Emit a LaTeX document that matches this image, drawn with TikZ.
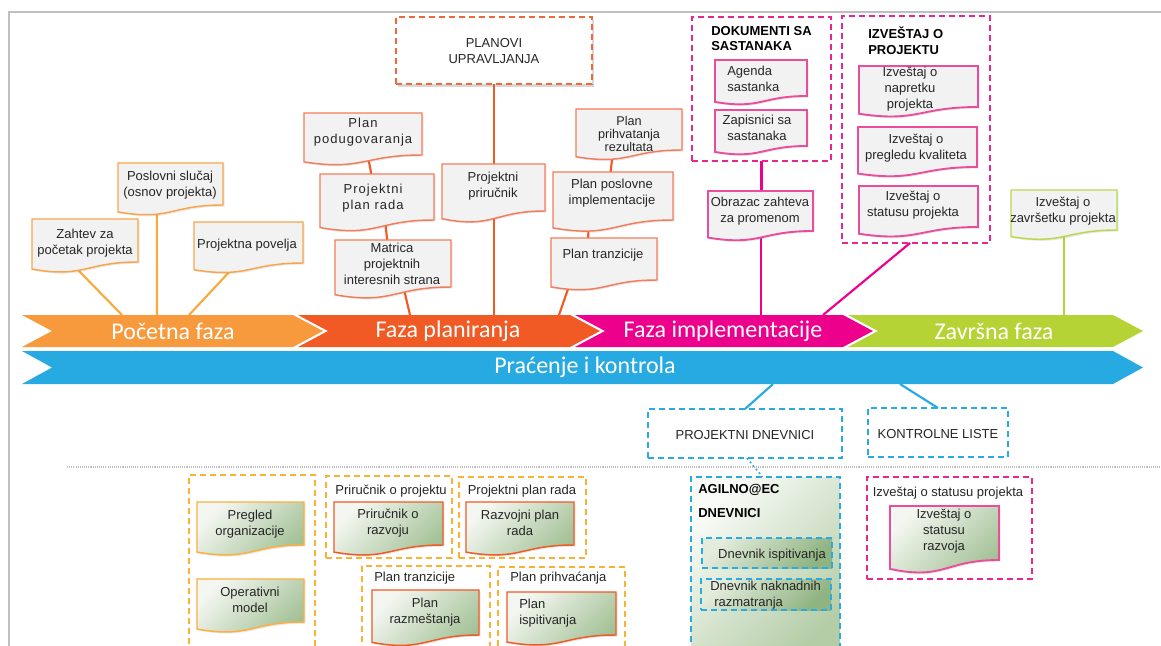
\documentclass[tikz,border=0pt]{standalone}
\usepackage{fontspec}
\setmainfont{Liberation Sans}
\newfontfamily\bandfont{Carlito}
\newfontfamily\spacedfont[LetterSpace=8]{Liberation Sans}
\usetikzlibrary{calc,fit,shadows}
\definecolor{bandOr}{HTML}{F79A3E}
\definecolor{bandRd}{HTML}{F15A24}
\definecolor{bandMg}{HTML}{EC008C}
\definecolor{bandGr}{HTML}{B5D334}
\definecolor{bandBl}{HTML}{27AAE1}
\definecolor{lnOr}{HTML}{F9AA3C}
\definecolor{bdOr}{HTML}{F9A64A}
\definecolor{bdSal}{HTML}{F47C5C}
\definecolor{dashRd}{HTML}{EE6A3A}
\definecolor{bdPk}{HTML}{EC4C9C}
\definecolor{dashPk}{HTML}{E8268F}
\definecolor{bdGr}{HTML}{BAD84D}
\definecolor{dashBl}{HTML}{29ABE2}
\definecolor{dashYo}{HTML}{F9B233}
\definecolor{bdYo}{HTML}{FBB040}
\definecolor{bdRd}{HTML}{F05A24}
\definecolor{docgray}{HTML}{F2F2F2}
\definecolor{gTL}{HTML}{F4F7F1}
\definecolor{gBR}{HTML}{A3C196}
\definecolor{gTLb}{HTML}{E4ECDD}
\definecolor{gBRb}{HTML}{8FB381}
\definecolor{gTLc}{HTML}{F9FBF7}
\definecolor{gBRc}{HTML}{B4CDA7}
\definecolor{txtc}{HTML}{262626}
\definecolor{framec}{HTML}{BFBFBF}

\pgfdeclarelayer{bgw}\pgfdeclarelayer{bg}\pgfsetlayers{bgw,bg,main}

\tikzset{
  docsh/.style={line width=1.1pt, fill=docgray, drop shadow={shadow xshift=1.2pt, shadow yshift=-1.2pt, opacity=0.18}},
  bOr/.style={draw=bdOr},
  bSal/.style={draw=bdSal},
  bPk/.style={draw=bdPk, line width=1.4pt},
  bGr/.style={draw=bdGr},
  gradA/.style={top color=gTL, bottom color=gBR, shading angle=45},
  bYo/.style={draw=bdYo, gradA},
  bRd/.style={draw=bdRd, gradA},
  bPkG/.style={draw=bdPk, line width=1.4pt, gradA},
  cont/.style={inner sep=0pt, outer sep=0pt, line width=1.4pt, dash pattern=on 4.5pt off 3pt},
  cPk/.style={cont, draw=dashPk},
  cBl/.style={cont, draw=dashBl},
  cYo/.style={cont, draw=dashYo, line width=1.1pt},
  cRd/.style={cont, draw=dashRd, line width=1.1pt, fill=white, drop shadow={shadow xshift=1.5pt, shadow yshift=-2pt, opacity=0.3}},
  lOr/.style={draw=lnOr, line width=1.6pt},
  lRd/.style={draw=bandRd, line width=1.6pt},
  lMg/.style={draw=bandMg, line width=1.6pt},
  lGr/.style={draw=bandGr, line width=1.6pt},
  lBl/.style={draw=bandBl, line width=1.6pt},
  txt/.style={font=\fontsize{9.75}{12}\selectfont, text=txtc, align=center, inner sep=0pt},
  ttl/.style={font=\bfseries\fontsize{9.75}{11.5}\selectfont, text=black, align=left, anchor=west, inner sep=0pt},
  bandtxt/.style={font=\bandfont\fontsize{18}{20}\selectfont, text=white, inner sep=0pt}
}

\newcommand\docshape[4][]{%
  \node[fit={(#3) (#4)}, inner sep=0pt, outer sep=0pt] (#2) {};
  \path[docsh,#1] let \p1=(#2.north west), \p2=(#2.south east), \n1={\y1-\y2} in
    (\x1,\y1) -- (\x2,\y1) -- (\x2,\y2) .. controls ({(\x1+\x2)/2},\y2) and ({(\x1+\x2)/2},{\y2-0.381*\n1}) .. (\x1,{\y2-0.165*\n1}) -- cycle;
}
\newcommand\chevron[5]{\fill[#1] (#2,#4) -- (#3,#4) -- ({#3+30},{(#4+#5)/2}) -- (#3,#5) -- (#2,#5) -- ({#2+30},{(#4+#5)/2}) -- cycle;}

\begin{document}
\begin{tikzpicture}[x=0.75pt,y=-0.75pt]
\useasboundingbox (0,0) rectangle (1161,646);
\begin{pgfonlayer}{bgw}
\fill[white] (0,0) rectangle (1161,646);
\end{pgfonlayer}
\clip (0,0) rectangle (1161,646);

% frame and separator
\draw[framec, line width=1.5pt] (8,12) -- (1161,12);
\draw[framec, line width=1.5pt] (9,12) -- (9,646);
\draw[framec, line width=0.8pt, dash pattern=on 0.8pt off 0.8pt] (67,467) -- (1161,467);

% bands
\chevron{bandOr}{22}{293}{315}{347}
\chevron{bandRd}{298}{570}{315}{347}
\chevron{bandMg}{575}{843}{315}{347}
\chevron{bandGr}{848}{1113}{315}{347}
\chevron{bandBl}{22}{1113}{351}{384}
\node[bandtxt] (ph1) at (173,331) {Početna faza};
\node[bandtxt] (ph2) at (448,331) {Faza planiranja};
\node[bandtxt] (ph3) at (723,331) {Faza implementacije};
\node[bandtxt] (ph4) at (994,331) {Završna faza};
\node[bandtxt] (ph5) at (585,367) {Praćenje i kontrola};

\coordinate (b1a) at (122,315);
\coordinate (b1b) at (157,315);
\coordinate (b1c) at (189,315);
\coordinate (b2a) at (410,315);
\coordinate (b2b) at (494,315);
\coordinate (b2c) at (559,315);
\coordinate (b3a) at (761,315);
\coordinate (b3b) at (823,315);
\coordinate (b4a) at (1064,315);
\coordinate (b5a) at (773,384);
\coordinate (b5b) at (900,384);

% initial phase documents
\docshape[bOr]{zahtev}{32,219}{138,262}
\node[txt] (zahtev-t) at (85,243) {Zahtev za\\početak projekta};
\docshape[bOr]{poslovni}{118,163}{223,205}
\node[txt] (poslovni-t) at (170,185) {Poslovni slučaj\\(osnov projekta)};
\docshape[bOr]{povelja}{194,222}{303,263}
\node[txt] (povelja-t) at (247,245) {Projektna povelja};

% planning
\node[cRd, fit={(396,17) (592,84)}] (planovi) {};
\node[txt] (planovi-t) at (494,51) {PLANOVI\\UPRAVLJANJA};
\docshape[bSal]{podug}{304,113}{422,155}
\node[txt, font=\spacedfont\fontsize{9.75}{12}\selectfont] (podug-t) at (363,132) {Plan\\podugovaranja};
\docshape[bSal]{planrada}{320,174}{434,220}
\node[txt, font=\spacedfont\fontsize{9.75}{12}\selectfont] (planrada-t) at (373,198) {Projektni\\plan rada};
\docshape[bSal]{matrica}{335,240}{451,287}
\node[txt] (matrica-t) at (392,264) {Matrica\\projektnih\\interesnih strana};
\docshape[bSal]{prirucnik}{442,164}{545,211}
\node[txt] (prirucnik-t) at (493,186) {Projektni\\priručnik};
\docshape[bSal]{prihv}{576,109}{682,150}
\node[txt, font=\fontsize{9.5}{9.8}\selectfont] (prihv-t) at (629,134) {Plan\\prihvatanja\\rezultata};
\docshape[bSal]{poslovne}{553,172}{673,220}
\node[txt] (poslovne-t) at (612,193) {Plan poslovne\\implementacije};
\docshape[bSal]{tranz}{551,238}{657,280}
\node[txt] (tranz-t) at (603,255) {Plan tranzicije};

% implementation
\node[cPk, fit={(692,17) (831,161)}] (dok) {};
\node[ttl] (dok-t) at (711,38.5) {DOKUMENTI SA\\SASTANAKA};
\docshape[bPk]{agenda}{715,60}{807,96}
\node[txt, align=left, anchor=west] (agenda-t) at (727,79) {Agenda\\sastanka};
\docshape[bPk]{zapis}{715,110}{807,146}
\node[txt] (zapis-t) at (757,128) {Zapisnici sa\\sastanaka};
\docshape[bPk]{obrazac}{708,191}{813,231}
\node[txt] (obrazac-t) at (760,211) {Obrazac zahteva\\za promenom};
\node[cPk, fit={(842,16) (990,243)}] (izv) {};
\node[ttl] (izv-t) at (868,40.7) {IZVEŠTAJ O\\PROJEKTU};
\docshape[bPk]{napr}{859,66}{978,107}
\node[txt] (napr-t) at (910,89) {Izveštaj o\\napretku\\projekta};
\docshape[bPk]{kval}{858,127}{977,167}
\node[txt] (kval-t) at (916,148) {Izveštaj o\\pregledu kvaliteta};
\docshape[bPk]{stat}{859,186}{978,227}
\node[txt] (stat-t) at (913,205) {Izveštaj o\\statusu projekta};

% closing
\docshape[bGr]{zavr}{1011,190}{1117,230}
\node[txt] (zavr-t) at (1063,211) {Izveštaj o\\završetku projekta};

% monitoring
\node[cBl, fit={(648,409) (842,458)}] (pdn) {};
\node[txt] (pdn-t) at (745,435) {PROJEKTNI DNEVNICI};
\node[cBl, fit={(868,408) (1008,457)}] (kl) {};
\node[txt] (kl-t) at (938,434) {KONTROLNE LISTE};

% bottom section
\node[cYo, fit={(189,475) (315,660)}] (col) {};
\docshape[bYo]{pregled}{197,502}{304,545}
\node[txt] (pregled-t) at (250,524) {Pregled\\organizacije};
\docshape[bYo]{operat}{197,579}{304,622}
\node[txt] (operat-t) at (250,600) {Operativni\\model};

\node[cYo, fit={(326,476) (452,558)}] (prc) {};
\node[txt] (prc-t) at (391,491) {Priručnik o projektu};
\docshape[bRd]{prraz}{334,502}{443,545}
\node[txt] (prraz-t) at (388,523) {Priručnik o\\razvoju};

\node[cYo, fit={(459,477) (586,558)}] (pprc) {};
\node[txt] (pprc-t) at (522,491) {Projektni plan rada};
\docshape[bRd]{razv}{466,502}{574,545}
\node[txt] (razv-t) at (520,523) {Razvojni plan\\rada};

\node[cYo, fit={(362,566) (490,660)}] (ptc) {};
\node[txt, anchor=west] (ptc-t) at (374,578) {Plan tranzicije};
\docshape[bRd]{razm}{372,590}{479,635}
\node[txt] (razm-t) at (425,612) {Plan\\razmeštanja};

\node[cYo, fit={(498,567) (625,660)}] (ppc) {};
\node[txt, anchor=west] (ppc-t) at (510,578) {Plan prihvaćanja};
\docshape[bRd]{ispit}{507,592}{616,635}
\node[txt, align=left, anchor=west] (ispit-t) at (519,613) {Plan\\ispitivanja};

\node[cBl, fit={(691,477) (840,660)}, top color=gTLc, bottom color=gBRc, shading angle=45] (agil) {};
\node[ttl] (agil-t) at (698,501) {AGILNO@EC\\[7pt]DNEVNICI};
\node[cBl, line width=1.1pt, fit={(702,538) (832,568)}, top color=gTLb, bottom color=gBRb, shading angle=45] (dnisp) {};
\node[txt] (dnisp-t) at (772,555) {Dnevnik ispitivanja};
\node[cBl, line width=1.1pt, fit={(701,579) (831,610)}, top color=gTLb, bottom color=gBRb, shading angle=45] (dnnak) {};
\node[txt, align=left, anchor=west] (dnnak-t) at (710,595) {Dnevnik naknadnih\\\hspace*{3pt}razmatranja};

\node[cPk, fit={(867,477) (1032,579)}] (isp) {};
\node[txt] (isp-t) at (948,493) {Izveštaj o statusu projekta};
\docshape[bPkG]{isr}{890,506}{999,560}
\node[txt] (isr-t) at (944,531) {Izveštaj o\\statusu\\razvoja};

% connectors (behind)
\begin{pgfonlayer}{bg}
\draw[lOr] ($(zahtev.south west)!0.36!(zahtev.south east)$) -- (b1a);
\draw[lOr] ($(poslovni.south west)!0.37!(poslovni.south east)$) -- (b1b);
\draw[lOr] ($(povelja.south west)!0.40!(povelja.south east)$) -- (b1c);
\draw[lRd] ($(podug.south west)!0.54!(podug.south east)$) -- ($(planrada.north west)!0.45!(planrada.north east)$);
\draw[lRd] ($(planrada.south west)!0.57!(planrada.south east)$) -- ($(matrica.north west)!0.45!(matrica.north east)$);
\draw[lRd] ($(matrica.south west)!0.59!(matrica.south east)$) -- (b2a);
\draw[lRd] (planovi.south) -- (planovi.south |- prirucnik.north);
\draw[lRd] (b2b |- prirucnik.south) -- (b2b);
\draw[lRd] ($(prihv.south west)!0.35!(prihv.south east)$) -- ($(poslovne.north west)!0.48!(poslovne.north east)$);
\draw[lRd] ($(poslovne.south west)!0.30!(poslovne.south east)$) -- ($(tranz.north west)!0.35!(tranz.north east)$);
\draw[lRd] ($(tranz.south west)!0.19!(tranz.south east)$) -- (b2c);
\draw[lMg] (dok.south) -- (dok.south |- obrazac.north);
\draw[lMg] (b3a |- obrazac.south) -- (b3a);
\draw[lMg] ($(izv.south west)!0.46!(izv.south east)$) -- (b3b);
\draw[lGr] (zavr.south) -- (b4a);
\draw[lBl] (b5a) -- (pdn.north);
\draw[lBl] (b5b) -- (kl.north);
\draw[draw=dashBl, line width=1.1pt, dash pattern=on 1.5pt off 2pt] ($(pdn.south west)!0.51!(pdn.south east)$) -- ($(agil.north west)!0.48!(agil.north east)$);
\end{pgfonlayer}
\end{tikzpicture}
\end{document}
